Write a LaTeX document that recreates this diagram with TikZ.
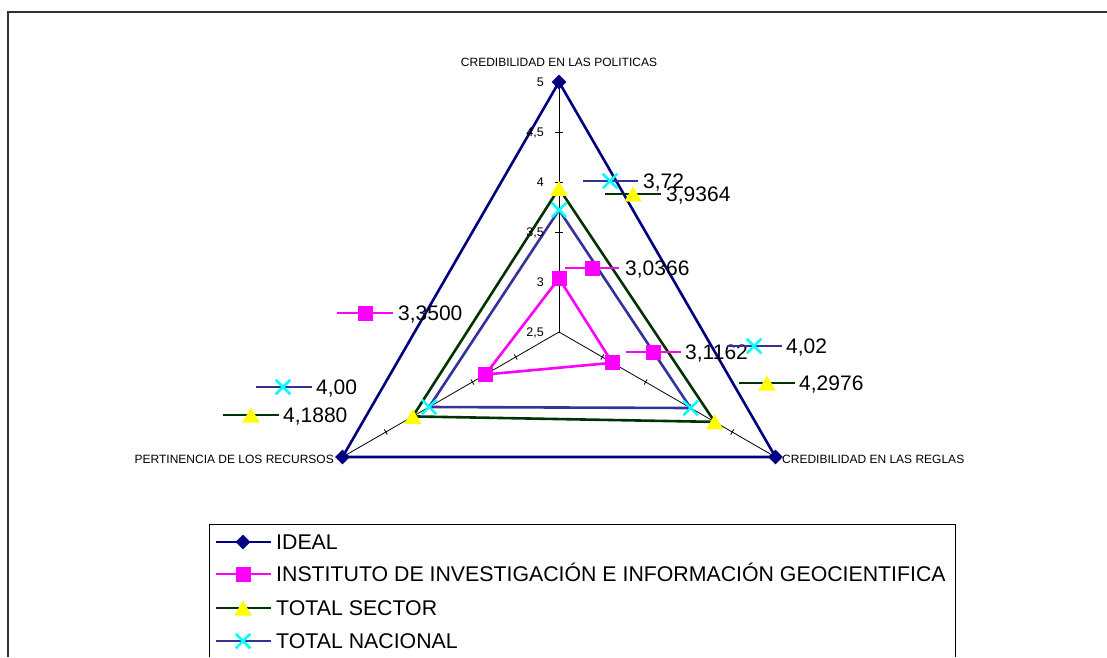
\documentclass[tikz,border=0pt]{standalone}
\usepackage{fontspec}
\setmainfont{Liberation Sans}
\usetikzlibrary{shapes.geometric,shapes.misc}

\definecolor{cideal}{RGB}{0,0,128}
\definecolor{cinst}{RGB}{255,0,255}
\definecolor{csect}{RGB}{0,51,0}
\definecolor{cnac}{RGB}{51,51,153}
\definecolor{amarillo}{RGB}{255,255,0}
\definecolor{cian}{RGB}{0,255,255}

\tikzset{
  eje/.style={black, line width=0.8pt},
  lideal/.style={cideal, line width=2.6pt, line join=miter},
  linst/.style={cinst, line width=2.6pt},
  lsect/.style={csect, line width=2.6pt},
  lnac/.style={cnac, line width=2.6pt},
  mideal/.style={diamond, aspect=1, fill=cideal, inner sep=0pt, minimum size=15pt},
  minst/.style={rectangle, fill=cinst, inner sep=0pt, minimum size=15pt},
  msect/.style={regular polygon, regular polygon sides=3, fill=amarillo, inner sep=0pt, minimum size=20pt, yshift=-2.5pt},
  mnac/.style={cross out, draw=cian, line width=2.5pt, inner sep=0pt, minimum size=12pt},
  valor/.style={font=\fontsize{21}{25}\selectfont, anchor=base west, inner sep=0pt},
  leyenda/.style={font=\fontsize{21.3}{25}\selectfont, anchor=base west, inner sep=0pt},
  nomeje/.style={font=\fontsize{12}{14}\selectfont, inner sep=0pt},
  escala/.style={font=\fontsize{12.5}{14}\selectfont, anchor=base east, inner sep=0pt},
}

\begin{document}
\begin{tikzpicture}[x=1pt,y=-1pt]
  \useasboundingbox (0,0) rectangle (1107,657);

  % Puntos
  \begin{scope}[shift={(559,332)}]
    \coordinate (o) at (0,0);
    \coordinate (d1) at (-90:250);
    \coordinate (d2) at (30:250);
    \coordinate (d3) at (150:250);

    \coordinate (i1) at (-90:53.66);
    \coordinate (i2) at (30:61.62);
    \coordinate (i3) at (150:85);

    \coordinate (s1) at (-90:143.64);
    \coordinate (s2) at (30:179.76);
    \coordinate (s3) at (150:168.8);

    \coordinate (n1) at (-90:122);
    \coordinate (n2) at (30:152);
    \coordinate (n3) at (150:150);

    % Ejes
    \draw[eje] (o) -- (d1);
    \draw[eje] (o) -- (d2);
    \draw[eje] (o) -- (d3);
    \foreach \r in {50,100,150,200,250} {
      \draw[eje, shift={(-90:\r)}] (-4,0) -- (4,0);
    }
    \foreach \r in {50,100,150,200} {
      \draw[eje, shift={(30:\r)}] (120:3) -- (-60:3);
      \draw[eje, shift={(150:\r)}] (60:3) -- (-120:3);
    }
  \end{scope}

  % Series
  \draw[lideal] (d1) -- (d2) -- (d3) -- cycle;
  \draw[linst] (i1) -- (i2) -- (i3) -- cycle;
  \draw[lsect] (s1) -- (s2) -- (s3) -- cycle;
  \draw[lnac] (n1) -- (n2) -- (n3) -- cycle;

  \node[mideal] (md1) at (d1) {};
  \node[mideal] (md2) at (d2) {};
  \node[mideal] (md3) at (d3) {};
  \node[minst] (mi1) at (i1) {};
  \node[minst] (mi2) at (i2) {};
  \node[minst] (mi3) at (i3) {};
  \node[msect] (ms1) at (s1) {};
  \node[msect] (ms2) at (s2) {};
  \node[msect] (ms3) at (s3) {};
  \node[mnac] (mn1) at (n1) {};
  \node[mnac] (mn2) at (n2) {};
  \node[mnac] (mn3) at (n3) {};

  % Escala
  \node[escala] (e5) at (544,86.5) {5};
  \node[escala] (e45) at (544,136.5) {4,5};
  \node[escala] (e4) at (544,186.5) {4};
  \node[escala] (e35) at (544,236.5) {3,5};
  \node[escala] (e3) at (544,286.5) {3};
  \node[escala] (e25) at (544,336.5) {2,5};

  % Nombres de los ejes
  \node[nomeje] (pol) at (559,62) {CREDIBILIDAD EN LAS POLITICAS};
  \node[nomeje, anchor=east] (rec) at (334,459) {PERTINENCIA DE LOS RECURSOS};
  \node[nomeje, anchor=west] (reg) at (782,459) {CREDIBILIDAD EN LAS REGLAS};

  % Valores
  \draw[lnac] (583,181) -- (638,181);
  \node[mnac] (kn1) at (610,181) {};
  \node[valor] (vn1) at (643,188.5) {3,72};

  \draw[lsect] (605,194) -- (661,194);
  \node[msect] (ks1) at (633,194) {};
  \node[valor] (vs1) at (666,201.5) {3,9364};

  \draw[linst] (565,268) -- (619,268);
  \node[minst] (ki1) at (592,268) {};
  \node[valor] (vi1) at (625,275.5) {3,0366};

  \draw[linst] (337,313) -- (393,313);
  \node[minst] (ki3) at (365,313) {};
  \node[valor] (vi3) at (398,320.5) {3,3500};

  \draw[lnac] (256,387) -- (312,387);
  \node[mnac] (kn3) at (283,387) {};
  \node[valor] (vn3) at (316,394.5) {4,00};

  \draw[lsect] (223,415) -- (279,415);
  \node[msect] (ks3) at (251,415) {};
  \node[valor] (vs3) at (283,422.5) {4,1880};

  \draw[linst] (626,352) -- (681,352);
  \node[minst] (ki2) at (653,352) {};
  \node[valor] (vi2) at (685,359.5) {3,1162};

  \draw[lnac] (727,346) -- (782,346);
  \node[mnac] (kn2) at (754,346) {};
  \node[valor] (vn2) at (786,353.5) {4,02};

  \draw[lsect] (739,383) -- (795,383);
  \node[msect] (ks2) at (767,383) {};
  \node[valor] (vs2) at (799,390.5) {4,2976};

  % Marco
  \draw[black!80, line width=1.4pt] (1107,12) -- (8,12) -- (8,657);

  % Leyenda
  \draw[black, line width=1pt] (209,657) -- (209,524) -- (955,524) -- (955,657);

  \draw[lideal] (216,542) -- (271,542);
  \node[mideal] (ly1) at (243,542) {};
  \node[leyenda] (ty1) at (276,549.5) {IDEAL};

  \draw[linst] (216,574) -- (271,574);
  \node[minst] (ly2) at (243,574) {};
  \node[leyenda] (ty2) at (276,581.5) {INSTITUTO DE INVESTIGACIÓN E INFORMACIÓN GEOCIENTIFICA};

  \draw[lsect] (216,608) -- (271,608);
  \node[msect] (ly3) at (243,608) {};
  \node[leyenda] (ty3) at (276,615.5) {TOTAL SECTOR};

  \draw[lnac] (216,641) -- (271,641);
  \node[mnac] (ly4) at (243,641) {};
  \node[leyenda] (ty4) at (276,648.5) {TOTAL NACIONAL};

\end{tikzpicture}
\end{document}
